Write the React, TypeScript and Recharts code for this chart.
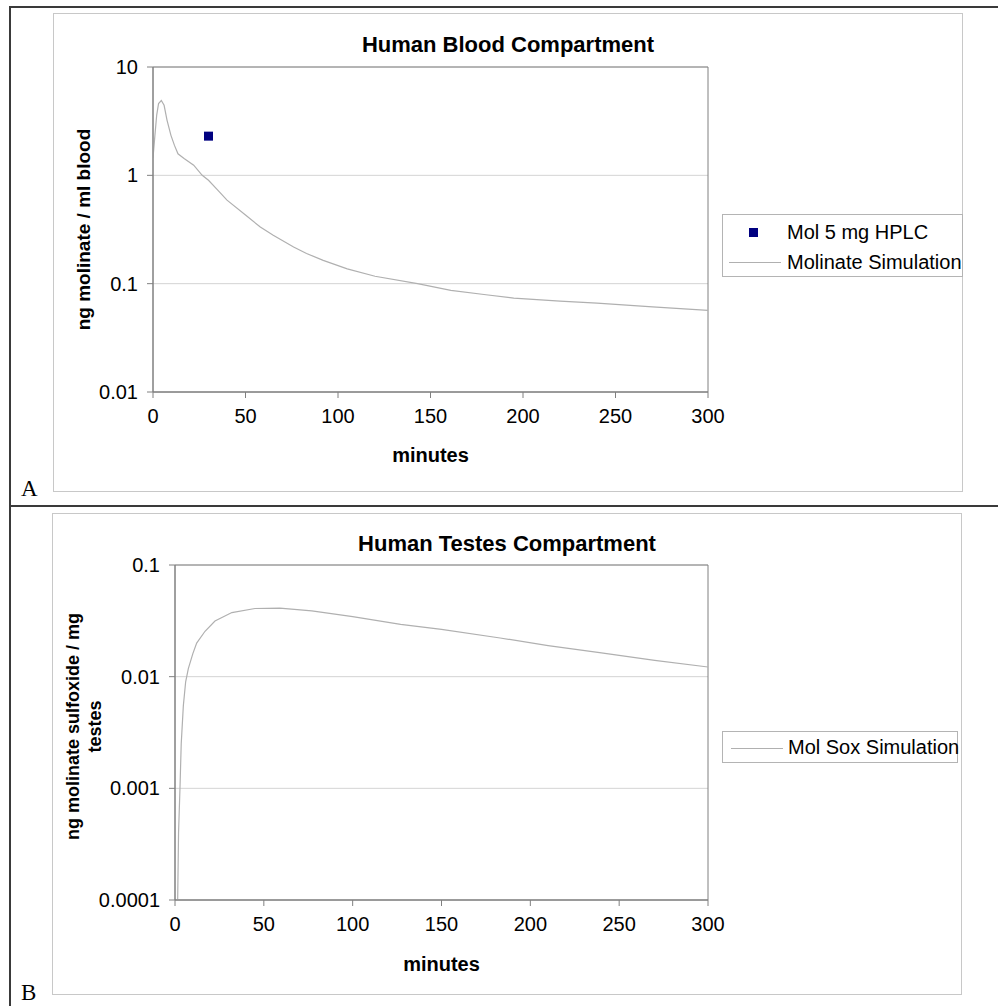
import React from 'react';
import { ComposedChart, Line, Scatter, XAxis, YAxis, CartesianGrid, Legend, ReferenceArea, Label } from 'recharts';

const bloodTime = [0, 1, 2, 3, 4.5, 6, 7.6, 9.7, 11.6, 13.5, 16.8, 22, 26.6, 30, 35, 40, 50, 58, 65, 76, 83, 92, 105, 120, 143, 161, 180, 195, 220, 240, 270, 300];
const bloodConc = [1.45, 2.3, 3.6, 4.6, 4.9, 4.43, 3.22, 2.34, 1.89, 1.58, 1.43, 1.24, 1.0, 0.9, 0.73, 0.59, 0.43, 0.333, 0.28, 0.218, 0.19, 0.164, 0.137, 0.117, 0.1, 0.0867, 0.079, 0.0736, 0.069, 0.066, 0.061, 0.0567];
const hplcTime = [30];
const hplcConc = [2.3];
const testesTime = [1.5, 2, 2.8, 3.5, 4.7, 6, 7.5, 10, 12.2, 16.9, 22.5, 32, 45, 59, 77, 100, 127, 150, 183, 210, 239, 270, 300];
const testesConc = [0.0001, 0.0004, 0.001, 0.0025, 0.0055, 0.009, 0.0118, 0.016, 0.02, 0.0255, 0.0315, 0.0375, 0.0408, 0.0411, 0.0388, 0.0345, 0.0294, 0.0265, 0.0222, 0.019, 0.0164, 0.014, 0.0122];
const xTicks = [0, 50, 100, 150, 200, 250, 300];
const bloodTicks = [0.01, 0.1, 1, 10];
const testesTicks = [0.0001, 0.001, 0.01, 0.1];

const bloodData = bloodTime.map((t, i) => ({ t, v: bloodConc[i] }));
const hplcData = hplcTime.map((t, i) => ({ t, v: hplcConc[i] }));
const testesData = testesTime.map((t, i) => ({ t, v: testesConc[i] }));

const FONT = '"Liberation Sans", Arial, Helvetica, sans-serif';
const AXIS = '#808080';
const GRID = '#d4d4d4';
const CURVE = '#b0b0b0';

const tickStyle = { fill: '#000', fontSize: 20, fontFamily: FONT };

const squareShape = (p: any) => <rect x={p.cx - 4.5} y={p.cy - 4.5} width={9} height={9} fill="#000080" />;

const legendBox: React.CSSProperties = {
  border: '1px solid #b4b4b4', background: '#fff', boxSizing: 'border-box', fontFamily: FONT, fontSize: 20, color: '#000',
};

const BloodLegend = () => (
  <div style={{ ...legendBox, width: 241, height: 63, position: 'relative' }}>
    <div style={{ position: 'absolute', left: 26, top: 13, width: 9, height: 9, background: '#000080' }} />
    <div style={{ position: 'absolute', left: 64, top: 6, lineHeight: '22px' }}>Mol 5 mg HPLC</div>
    <div style={{ position: 'absolute', left: 6, top: 47, width: 52, height: 1, background: CURVE }} />
    <div style={{ position: 'absolute', left: 64, top: 36, lineHeight: '22px', whiteSpace: 'nowrap' }}>Molinate Simulation</div>
  </div>
);

const TestesLegend = () => (
  <div style={{ ...legendBox, width: 236, height: 32, position: 'relative' }}>
    <div style={{ position: 'absolute', left: 8, top: 16, width: 52, height: 1, background: CURVE }} />
    <div style={{ position: 'absolute', left: 65, top: 4, lineHeight: '22px', whiteSpace: 'nowrap' }}>Mol Sox Simulation</div>
  </div>
);

const frameLine = (style: React.CSSProperties) => <div style={{ position: 'absolute', background: '#3a3a3a', ...style }} />;

export default function App() {
  return (
    <div style={{ position: 'absolute', left: 0, top: 0, width: 998, height: 1006, background: '#fff', overflow: 'hidden', fontFamily: FONT }}>
      {frameLine({ left: 9, top: 6, width: 989, height: 2 })}
      {frameLine({ left: 9, top: 6, width: 2, height: 1000 })}
      {frameLine({ left: 9, top: 505, width: 989, height: 2 })}
      <div style={{ position: 'absolute', left: 53, top: 13, width: 910, height: 479, border: '1px solid #c8c8c8', boxSizing: 'border-box' }} />
      <div style={{ position: 'absolute', left: 52, top: 513, width: 910, height: 482, border: '1px solid #c8c8c8', boxSizing: 'border-box' }} />
      <div style={{ position: 'absolute', left: 21, top: 476, fontFamily: '"Liberation Serif", "Times New Roman", serif', fontSize: 23, lineHeight: '26px' }}>A</div>
      <div style={{ position: 'absolute', left: 21, top: 980, fontFamily: '"Liberation Serif", "Times New Roman", serif', fontSize: 23, lineHeight: '26px' }}>B</div>
      <div style={{ position: 'absolute', left: 53, width: 910, top: 31, textAlign: 'center', fontWeight: 'bold', fontSize: 22, lineHeight: '28px' }}>Human Blood Compartment</div>
      <div style={{ position: 'absolute', left: 52, width: 910, top: 530, textAlign: 'center', fontWeight: 'bold', fontSize: 22, lineHeight: '28px' }}>Human Testes Compartment</div>

      <div style={{ position: 'absolute', left: 0, top: 0 }}>
        <ComposedChart width={998} height={506} margin={{ top: 67, right: 290, bottom: 74, left: 73 }}>
          <CartesianGrid horizontal={true} vertical={false} stroke={GRID} />
          <XAxis dataKey="t" type="number" domain={[0, 300]} ticks={xTicks} allowDataOverflow height={40}
            tick={tickStyle} tickSize={6} tickMargin={11} axisLine={{ stroke: AXIS }} tickLine={{ stroke: AXIS }}>
            <Label content={(p: any) => (
              <text x={p.viewBox.x + p.viewBox.width / 2} y={p.viewBox.y + 70} textAnchor="middle" fontFamily={FONT} fontSize={20} fontWeight="bold" fill="#000">minutes</text>
            )} />
          </XAxis>
          <YAxis dataKey="v" type="number" scale="log" domain={[0.01, 10]} ticks={bloodTicks} allowDataOverflow width={80}
            tick={tickStyle} tickSize={6} tickMargin={9} axisLine={{ stroke: AXIS }} tickLine={{ stroke: AXIS }}>
            <Label content={(p: any) => {
              const cy = p.viewBox.y + p.viewBox.height / 2;
              return <text x={83} y={cy} transform={`rotate(-90 83 ${cy})`} textAnchor="middle" dominantBaseline="central" fontFamily={FONT} fontSize={19} fontWeight="bold" fill="#000">ng molinate / ml blood</text>;
            }} />
          </YAxis>
          <ReferenceArea x1={0} x2={300} y1={0.01} y2={10} fill="none" stroke={AXIS} strokeOpacity={1} fillOpacity={0} />
          <Line data={bloodData} dataKey="v" type="linear" stroke={CURVE} strokeWidth={1.2} dot={false} isAnimationActive={false} name="Molinate Simulation" />
          <Scatter data={hplcData} dataKey="v" shape={squareShape} isAnimationActive={false} name="Mol 5 mg HPLC" />
          <Legend content={() => <BloodLegend />} layout="horizontal" verticalAlign="middle" align="center"
            wrapperStyle={{ position: 'absolute', left: 722, top: 214, width: 241, height: 63 }} />
        </ComposedChart>
      </div>

      <div style={{ position: 'absolute', left: 0, top: 506 }}>
        <ComposedChart width={998} height={500} margin={{ top: 59, right: 290, bottom: 66, left: 95 }}>
          <CartesianGrid horizontal={true} vertical={false} stroke={GRID} />
          <XAxis dataKey="t" type="number" domain={[0, 300]} ticks={xTicks} allowDataOverflow height={40}
            tick={tickStyle} tickSize={6} tickMargin={11} axisLine={{ stroke: AXIS }} tickLine={{ stroke: AXIS }}>
            <Label content={(p: any) => (
              <text x={p.viewBox.x + p.viewBox.width / 2} y={p.viewBox.y + 71} textAnchor="middle" fontFamily={FONT} fontSize={20} fontWeight="bold" fill="#000">minutes</text>
            )} />
          </XAxis>
          <YAxis dataKey="v" type="number" scale="log" domain={[0.0001, 0.1]} ticks={testesTicks} allowDataOverflow width={80}
            tick={tickStyle} tickSize={6} tickMargin={9} axisLine={{ stroke: AXIS }} tickLine={{ stroke: AXIS }}>
            <Label content={(p: any) => {
              const cy = p.viewBox.y + p.viewBox.height / 2 - 6;
              return (
                <g>
                  <text x={73} y={cy} transform={`rotate(-90 73 ${cy})`} textAnchor="middle" dominantBaseline="central" fontFamily={FONT} fontSize={18} fontWeight="bold" fill="#000">ng molinate sulfoxide / mg</text>
                  <text x={95} y={cy} transform={`rotate(-90 95 ${cy})`} textAnchor="middle" dominantBaseline="central" fontFamily={FONT} fontSize={18} fontWeight="bold" fill="#000">testes</text>
                </g>
              );
            }} />
          </YAxis>
          <ReferenceArea x1={0} x2={300} y1={0.0001} y2={0.1} fill="none" stroke={AXIS} strokeOpacity={1} fillOpacity={0} />
          <Line data={testesData} dataKey="v" type="linear" stroke={CURVE} strokeWidth={1.2} dot={false} isAnimationActive={false} name="Mol Sox Simulation" />
          <Legend content={() => <TestesLegend />} layout="horizontal" verticalAlign="middle" align="center"
            wrapperStyle={{ position: 'absolute', left: 722, top: 225, width: 236, height: 32 }} />
        </ComposedChart>
      </div>
    </div>
  );
}
